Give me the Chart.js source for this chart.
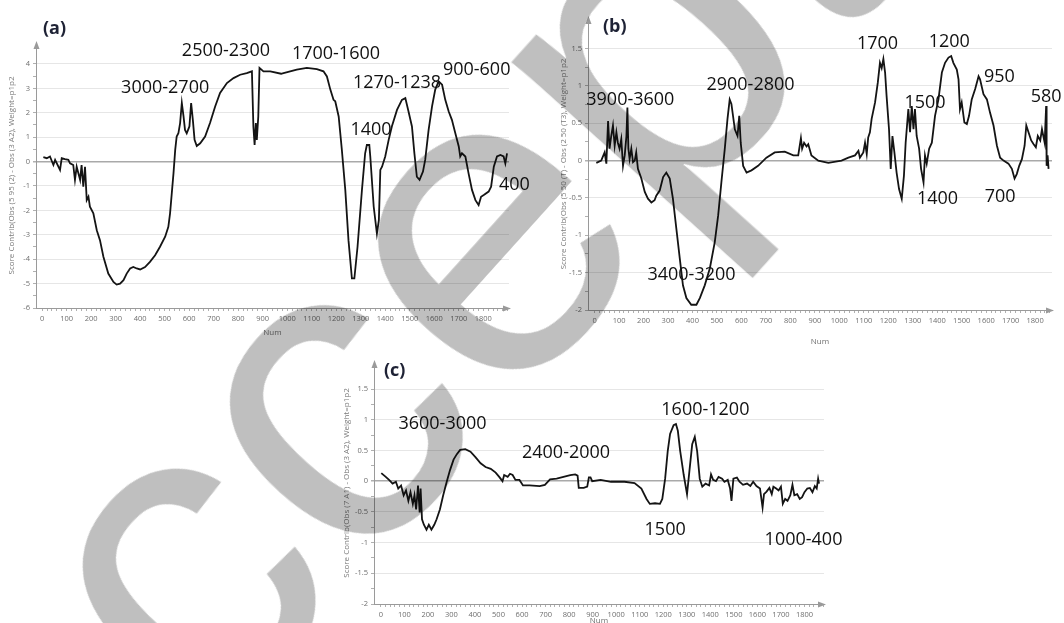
<!DOCTYPE html>
<html>
<head>
<meta charset="utf-8">
<script src="https://cdn.jsdelivr.net/npm/chart.js@4.4.1/dist/chart.umd.min.js"></script>
<style>
    html, body { margin: 0; padding: 0; background: #fff; width: 1064px; height: 623px; overflow: hidden; }
    .panel { position: absolute; }
    .tag { position: absolute; font: bold 18px "Open Sans", sans-serif; line-height: 1; color: #1e2235; }
    #wm {
        position: absolute; left: -266px; top: 717px;
        font: 440px "Liberation Sans", sans-serif; line-height: 1; color: #bfbfbf;
        transform: rotate(-48deg); transform-origin: 0 0; white-space: nowrap;
        mix-blend-mode: multiply; pointer-events: none; z-index: 10;
    }
</style>
</head>
<body>
<div class="panel" style="left:0;top:0"><canvas id="chartA" width="540" height="340"></canvas></div>
<div class="panel" style="left:540px;top:0"><canvas id="chartB" width="524" height="350"></canvas></div>
<div class="panel" style="left:320px;top:340px"><canvas id="chartC" width="530" height="300"></canvas></div>
<div class="tag" style="left:43px;top:18px">(a)</div>
<div class="tag" style="left:603px;top:16px">(b)</div>
<div class="tag" style="left:384px;top:360px">(c)</div>
<div id="wm">Accepted Manuscript</div>
<script>
/* globals Chart:false */
'use strict'

// tick labels
var xTickLabels = [0, 100, 200, 300, 400, 500, 600, 700, 800, 900, 1000, 1100, 1200, 1300, 1400, 1500, 1600, 1700, 1800]
var yTicksA = [-6, -5, -4, -3, -2, -1, 0, 1, 2, 3, 4]
var yTicksBC = [-2, -1.5, -1, -0.5, 0, 0.5, 1, 1.5]

// (a) contribution curve
var aX = [5, 19, 32, 46, 53, 73, 80, 93, 107, 114, 127, 134, 141, 155, 161, 168, 175, 182, 189, 195,
    209, 223, 236, 250, 270, 291, 304, 318, 332, 345, 359, 372, 386, 400, 420, 440, 461, 481, 502, 515,
    522, 529, 536, 543, 549, 556, 563, 570, 577, 583, 590, 601, 608, 615, 622, 631, 645, 665, 685, 706,
    726, 754, 781, 808, 835, 856, 862, 867, 872, 876, 882, 887, 903, 931, 975, 985, 1039, 1080, 1121, 1148,
    1162, 1176, 1189, 1196, 1210, 1223, 1237, 1250, 1264, 1274, 1287, 1305, 1318, 1325, 1335, 1339, 1353, 1366, 1374, 1380,
    1387, 1400, 1414, 1427, 1448, 1468, 1482, 1495, 1509, 1519, 1529, 1540, 1554, 1563, 1577, 1591, 1604, 1618, 1632, 1645,
    1659, 1672, 1686, 1700, 1706, 1713, 1727, 1740, 1754, 1768, 1781, 1791, 1802, 1822, 1832, 1843, 1856, 1870, 1883, 1890, 1897]
var aY = [0.18, 0.14, 0.21, -0.14, 0.07, -0.34, 0.14, 0.10, 0.07, -0.07, -0.14, -0.75, -0.21, -0.75, -0.14, -1.03, -0.21, -1.58, -1.44, -1.85,
    -2.12, -2.81, -3.22, -3.90, -4.59, -4.93, -5.04, -5.00, -4.86, -4.59, -4.38, -4.32, -4.38, -4.42, -4.32, -4.11, -3.84, -3.49, -3.08, -2.67,
    -2.12, -1.30, -0.48, 0.48, 1.03, 1.16, 1.58, 2.40, 1.85, 1.30, 1.16, 1.44, 2.40, 1.71, 0.89, 0.64, 0.75, 1.03, 1.58, 2.26,
    2.81, 3.22, 3.42, 3.56, 3.63, 3.70, 1.44, 0.68, 1.58, 0.89, 1.85, 3.84, 3.70, 3.70, 3.60, 3.63, 3.77, 3.84, 3.79, 3.70,
    3.49, 2.95, 2.53, 2.47, 1.85, 0.48, -1.16, -3.22, -4.79, -4.79, -3.49, -1.16, 0.34, 0.68, 0.68, 0.21, -1.85, -2.95, -2.40, -0.34,
    -0.21, 0.21, 0.89, 1.44, 2.12, 2.53, 2.60, 2.05, 1.44, 0.34, -0.62, -0.75, -0.41, 0.07, 1.30, 2.26, 2.95, 3.29, 3.15, 2.53,
    2.05, 1.71, 1.16, 0.62, 0.21, 0.34, 0.21, -0.48, -1.16, -1.58, -1.78, -1.44, -1.37, -1.23, -1.03, -0.21, 0.21, 0.27, 0.21, -0.07, 0.34]

// (b) contribution curve
var bX = [7, 27, 41, 48, 55, 61, 68, 75, 82, 89, 95, 102, 109, 116, 123, 130, 134, 138, 143, 150,
    157, 164, 170, 177, 191, 205, 218, 232, 245, 252, 266, 280, 293, 307, 320, 334, 348, 361, 375, 395,
    416, 430, 450, 471, 491, 505, 518, 532, 543, 552, 559, 573, 584, 591, 597, 607, 621, 641, 668, 702,
    736, 777, 812, 832, 843, 848, 856, 866, 873, 886, 914, 955, 1009, 1037, 1064, 1078, 1084, 1098, 1105, 1112,
    1118, 1125, 1132, 1146, 1157, 1166, 1173, 1180, 1187, 1193, 1203, 1210, 1217, 1225, 1234, 1244, 1255, 1264, 1271, 1282,
    1289, 1296, 1303, 1309, 1316, 1326, 1334, 1344, 1350, 1357, 1367, 1378, 1391, 1405, 1419, 1432, 1446, 1457, 1466, 1480,
    1487, 1493, 1500, 1511, 1521, 1530, 1541, 1555, 1569, 1575, 1589, 1603, 1616, 1630, 1644, 1657, 1671, 1691, 1705, 1716,
    1725, 1735, 1746, 1757, 1764, 1773, 1784, 1794, 1803, 1811, 1821, 1828, 1839, 1845, 1847, 1851, 1855]
var bY = [-0.03, 0, 0.11, -0.04, 0.53, 0.16, 0.33, 0.47, 0.20, 0.38, 0.24, 0.16, 0.29, -0.07, 0.07, 0.33, 0.71, 0.16, 0.02, 0.16,
    -0.02, 0, 0.11, -0.11, -0.24, -0.42, -0.51, -0.56, -0.53, -0.47, -0.40, -0.22, -0.16, -0.24, -0.51, -0.91, -1.31, -1.67, -1.84, -1.93,
    -1.93, -1.84, -1.67, -1.44, -1.09, -0.73, -0.29, 0.16, 0.56, 0.82, 0.76, 0.42, 0.33, 0.60, 0.24, -0.07, -0.16, -0.13, -0.07, 0.04,
    0.11, 0.12, 0.07, 0.07, 0.30, 0.16, 0.24, 0.19, 0.22, 0.07, 0, -0.03, 0, 0.04, 0.07, 0.13, 0.04, 0.11, 0.24, 0.09,
    0.31, 0.38, 0.56, 0.78, 1.04, 1.31, 1.24, 1.36, 1.18, 0.87, 0.42, -0.11, 0.33, 0.11, -0.16, -0.38, -0.51, -0.20, 0.24, 0.69,
    0.38, 0.73, 0.42, 0.69, 0.33, 0.16, -0.11, -0.29, 0.07, -0.04, 0.16, 0.24, 0.60, 0.82, 1.18, 1.31, 1.38, 1.40, 1.31, 1.22,
    1.09, 0.69, 0.78, 0.51, 0.49, 0.60, 0.82, 0.96, 1.13, 1.09, 0.89, 0.82, 0.64, 0.47, 0.20, 0.04, 0, -0.04, -0.11, -0.24,
    -0.18, -0.07, 0.02, 0.20, 0.47, 0.38, 0.27, 0.22, 0.18, 0.33, 0.27, 0.42, 0.24, 0.73, -0.07, 0.07, -0.11]

// (c) contribution curve
var cX = [2, 21, 35, 50, 64, 74, 86, 97, 107, 117, 126, 136, 143, 150, 158, 165, 169, 175, 183, 194,
    204, 215, 227, 237, 251, 265, 280, 294, 309, 323, 337, 359, 381, 402, 424, 445, 467, 488, 503, 517,
    524, 539, 549, 560, 572, 589, 604, 632, 675, 697, 719, 747, 776, 805, 826, 836, 841, 862, 877, 884,
    891, 898, 934, 978, 1035, 1078, 1107, 1129, 1143, 1165, 1186, 1196, 1208, 1219, 1229, 1244, 1254, 1262, 1272, 1287,
    1301, 1311, 1323, 1334, 1344, 1355, 1366, 1380, 1395, 1403, 1412, 1424, 1435, 1450, 1460, 1474, 1484, 1490, 1498, 1513,
    1524, 1539, 1556, 1570, 1582, 1596, 1611, 1622, 1628, 1639, 1651, 1661, 1668, 1680, 1690, 1700, 1708, 1718, 1728, 1740,
    1749, 1757, 1769, 1780, 1790, 1800, 1812, 1823, 1834, 1844, 1852, 1858, 1862]
var cY = [0.13, 0.07, 0.02, -0.04, -0.01, -0.12, -0.07, -0.23, -0.15, -0.32, -0.18, -0.37, -0.23, -0.46, -0.07, -0.51, -0.12, -0.62, -0.71, -0.79,
    -0.71, -0.79, -0.71, -0.62, -0.46, -0.23, -0.01, 0.18, 0.35, 0.44, 0.51, 0.52, 0.48, 0.39, 0.29, 0.23, 0.20, 0.14, 0.07, 0,
    0.10, 0.07, 0.12, 0.10, 0.02, 0.02, -0.07, -0.07, -0.08, -0.06, 0.03, 0.04, 0.07, 0.10, 0.11, 0.09, -0.11, -0.11, -0.09, 0.06,
    0.06, 0, 0.02, -0.01, -0.01, -0.03, -0.12, -0.29, -0.37, -0.36, -0.37, -0.29, 0.04, 0.49, 0.77, 0.91, 0.93, 0.82, 0.49, 0.10,
    -0.21, 0.16, 0.60, 0.72, 0.49, 0.04, -0.09, -0.04, -0.07, 0.11, 0.02, 0, 0.07, 0.04, -0.01, 0.02, -0.12, -0.32, 0.04, 0.06,
    -0.01, -0.06, -0.04, -0.08, -0.01, -0.08, -0.12, -0.43, -0.21, -0.17, -0.11, -0.21, -0.09, -0.12, -0.15, -0.09, -0.37, -0.29, -0.32, -0.23,
    -0.06, -0.23, -0.21, -0.29, -0.26, -0.18, -0.12, -0.11, -0.18, -0.08, -0.12, 0.04, -0.04]

// peak labels (text, anchored at value coordinates)
var peaksA = ['3000-2700', '2500-2300', '1700-1600', '1270-1238', '900-600', '1400', '400']
var peaksAX = [502, 750, 1199, 1448, 1773, 1342, 1927]
var peaksAY = [3.04, 4.53, 4.40, 3.23, 3.75, 1.28, -0.94]
var peaksB = ['3900-3600', '2900-2800', '3400-3200', '1700', '1200', '950', '1500', '580', '1400', '700']
var peaksBX = [146, 637, 396, 1156, 1449, 1654, 1350, 1845, 1401, 1657]
var peaksBY = [0.82, 1.02, -1.53, 1.57, 1.59, 1.12, 0.77, 0.85, -0.51, -0.49]
var peaksC = ['3600-3000', '2400-2000', '1600-1200', '1500', '1000-400']
var peaksCX = [262, 787, 1379, 1208, 1796]
var peaksCY = [0.94, 0.46, 1.16, -0.79, -0.95]

var peakLabels = {
    id: 'peakLabels',
    afterDatasetsDraw: function (chart, args, opts) {
        var ctx = chart.ctx
        var sx = chart.scales.x
        var sy = chart.scales.y
        ctx.save()
        ctx.font = '18px "Open Sans"'
        ctx.fillStyle = '#111'
        ctx.textAlign = 'center'
        ctx.textBaseline = 'middle'
        opts.text.forEach(function (t, i) {
            ctx.fillText(t, sx.getPixelForValue(opts.x[i]), sy.getPixelForValue(opts.y[i]))
        })
        ctx.restore()
    }
}

// little arrow heads at the ends of both axes
var axisArrows = {
    id: 'axisArrows',
    afterDraw: function (chart) {
        var ctx = chart.ctx
        var a = chart.chartArea
        ctx.save()
        ctx.fillStyle = '#9a9a9a'
        ctx.beginPath()
        ctx.moveTo(a.left + 0.5, a.top - 2)
        ctx.lineTo(a.left - 2.5, a.top + 6)
        ctx.lineTo(a.left + 3.5, a.top + 6)
        ctx.fill()
        ctx.beginPath()
        ctx.moveTo(a.right + 2, a.bottom + 0.5)
        ctx.lineTo(a.right - 6, a.bottom - 2.5)
        ctx.lineTo(a.right - 6, a.bottom + 3.5)
        ctx.fill()
        ctx.restore()
    }
}

Chart.register(peakLabels, axisArrows)

function points(xs, ys) {
    return xs.map(function (x, i) { return { x: x, y: ys[i] } })
}

function makeChart(id, cfg) {
    var majors = cfg.yTicks
    var step = cfg.yMinor
    return new Chart(document.getElementById(id), {
        type: 'line',
        data: {
            datasets: [{
                data: points(cfg.xs, cfg.ys),
                borderColor: '#141414',
                borderWidth: 1.8,
                pointRadius: 0,
                tension: 0
            }]
        },
        options: {
            responsive: false,
            animation: false,
            events: [],
            layout: { padding: cfg.padding },
            plugins: {
                legend: { display: false },
                tooltip: { enabled: false },
                peakLabels: cfg.peaks
            },
            scales: {
                x: {
                    type: 'linear',
                    min: cfg.xMin,
                    max: cfg.xMax,
                    afterBuildTicks: function (s) {
                        var t = []
                        for (var v = 0; v <= cfg.xMax; v += 20) t.push({ value: v })
                        s.ticks = t
                    },
                    afterFit: function (s) { s.height = cfg.xH },
                    ticks: {
                        autoSkip: false,
                        maxRotation: 0,
                        padding: 3,
                        color: '#6f6f6f',
                        font: { family: 'Open Sans', size: 7.5 },
                        callback: function (v) { return xTickLabels.indexOf(v) >= 0 ? String(v) : '' }
                    },
                    grid: { drawOnChartArea: false, tickLength: 3, tickColor: '#b0b0b0' },
                    border: { color: '#9a9a9a', width: 1 },
                    title: {
                        display: true, text: 'Num', color: '#6f6f6f',
                        font: { family: 'Open Sans', size: 8 },
                        padding: { top: 0, bottom: cfg.numPad }
                    }
                },
                y: {
                    type: 'linear',
                    min: cfg.yMin,
                    max: cfg.yMax,
                    afterBuildTicks: function (s) {
                        var t = []
                        for (var v = cfg.yMin; v <= majors[majors.length - 1] + 1e-9; v += step) t.push({ value: Math.round(v * 100) / 100 })
                        s.ticks = t
                    },
                    afterFit: function (s) { s.width = cfg.yW },
                    ticks: {
                        padding: 3,
                        color: '#6f6f6f',
                        font: { family: 'Open Sans', size: 7.5 },
                        callback: function (v) { return majors.indexOf(v) >= 0 ? String(v) : '' }
                    },
                    grid: {
                        tickLength: 3,
                        tickColor: '#b0b0b0',
                        color: function (c) {
                            if (!c.tick || majors.indexOf(c.tick.value) < 0) return 'rgba(0,0,0,0)'
                            return c.tick.value === 0 ? '#a9a9a9' : '#e6e6e6'
                        },
                        lineWidth: function (c) { return c.tick && c.tick.value === 0 ? 1.5 : 1 }
                    },
                    border: { color: '#9a9a9a', width: 1 },
                    title: {
                        display: true, text: cfg.yTitle, color: '#7a7a7a',
                        font: { family: 'Open Sans', size: 8 },
                        padding: { top: cfg.titlePad, bottom: 0 }
                    }
                }
            }
        }
    })
}

makeChart('chartA', {
    xs: aX, ys: aY, xMin: -25, xMax: 1905, yMin: -6, yMax: 4.86, yTicks: yTicksA, yMinor: 0.5,
    padding: { top: 43, right: 31, bottom: 0, left: 0 }, yW: 36, xH: 32, numPad: 2, titlePad: 7,
    yTitle: 'Score Contrib(Obs (5 95 (2) - Obs (3 A2), Weight=p1p2',
    peaks: { text: peaksA, x: peaksAX, y: peaksAY }
})

makeChart('chartB', {
    xs: bX, ys: bY, xMin: -27, xMax: 1869, yMin: -2, yMax: 1.91, yTicks: yTicksBC, yMinor: 0.25,
    padding: { top: 18, right: 12, bottom: 0, left: 0 }, yW: 48, xH: 40, numPad: 3.5, titlePad: 19,
    yTitle: 'Score Contrib(Obs (5 50 (T) - Obs (2 50 (T3), Weight=p1p2',
    peaks: { text: peaksB, x: peaksBX, y: peaksBY }
})

makeChart('chartC', {
    xs: cX, ys: cY, xMin: -29, xMax: 1883, yMin: -2, yMax: 1.94, yTicks: yTicksBC, yMinor: 0.25,
    padding: { top: 22, right: 26, bottom: 0, left: 0 }, yW: 54, xH: 36, numPad: 14.6, titlePad: 22,
    yTitle: 'Score Contrib(Obs (7 A1) - Obs (3 A2), Weight=p1p2',
    peaks: { text: peaksC, x: peaksCX, y: peaksCY }
})
</script>
</body>
</html>
